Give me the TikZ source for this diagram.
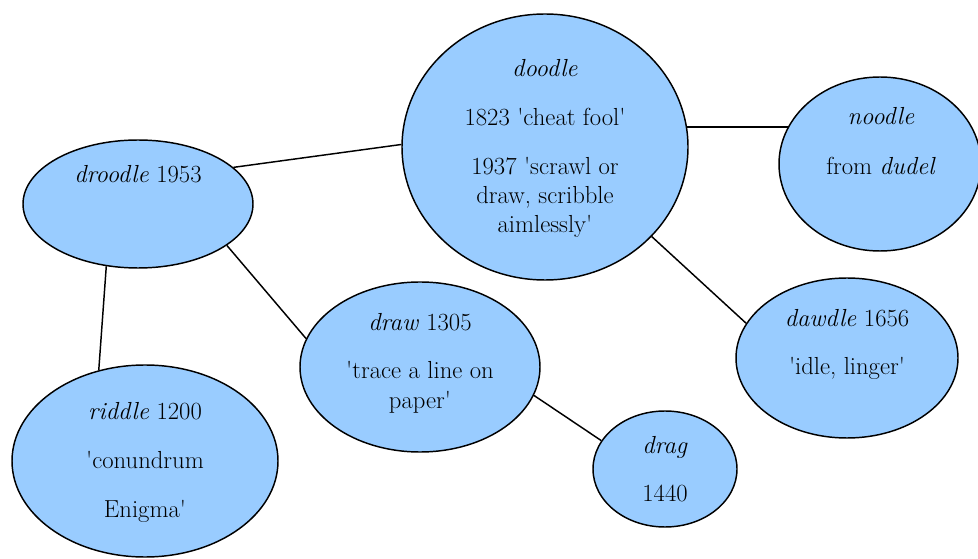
\documentclass[tikz,border=0pt]{standalone}
\usetikzlibrary{shapes.geometric}
\definecolor{skyfill}{HTML}{99CCFF}
\newcommand{\q}{\textquotesingle}

\begin{document}
\begin{tikzpicture}[
        x=0.75pt,y=-0.75pt,
        blob/.style 2 args={ellipse, draw, line width=1.1pt, fill=skyfill,
            inner sep=0pt, minimum width=#1, minimum height=#2},
        lbl/.style={anchor=base, inner sep=0pt, font=\fontsize{18.5}{22}\selectfont},
        link/.style={line width=1.1pt},
        ]
        \useasboundingbox (0,0) rectangle (978,559);

        % the word bubbles
        \node[blob={214.5pt}{199.5pt}] (doodle)  at (545,147) {};
        \node[blob={172.5pt}{96pt}]    (droodle) at (138,204) {};
        \node[blob={151.5pt}{130.5pt}] (noodle)  at (880,164) {};
        \node[blob={180pt}{127.5pt}]   (draw)    at (420,367) {};
        \node[blob={166.5pt}{120pt}]   (dawdle)  at (847,358) {};
        \node[blob={199.5pt}{144pt}]   (riddle)  at (145,461) {};
        \node[blob={108pt}{87pt}]      (drag)    at (665,469) {};

        % texts
        \node[lbl] (doodle-a) at (545,77)  {\textit{doodle}};
        \node[lbl] (doodle-b) at (545,126) {1823 \q cheat fool\q};
        \node[lbl] (doodle-c) at (545,175) {1937 \q scrawl or};
        \node[lbl] (doodle-d) at (545,204) {draw, scribble};
        \node[lbl] (doodle-e) at (545,233) {aimlessly\q};
        \node[lbl] (droodle-a) at (138,183) {\textit{droodle} 1953};
        \node[lbl] (noodle-a) at (881,125) {\textit{noodle}};
        \node[lbl] (noodle-b) at (881,175) {from \textit{dudel}};
        \node[lbl] (draw-a) at (420,331) {\textit{draw} 1305};
        \node[lbl] (draw-b) at (420,379) {\q trace a line on};
        \node[lbl] (draw-c) at (420,409) {paper\q};
        \node[lbl] (dawdle-a) at (847,327) {\textit{dawdle} 1656};
        \node[lbl] (dawdle-b) at (847,375) {\q idle, linger\q};
        \node[lbl] (riddle-a) at (145,420) {\textit{riddle} 1200};
        \node[lbl] (riddle-b) at (145,469) {\q conundrum};
        \node[lbl] (riddle-c) at (145,517) {Enigma\q};
        \node[lbl] (drag-a) at (665,453) {\textit{drag}};
        \node[lbl] (drag-b) at (665,501) {1440};

        % links
        \draw[link] (droodle.21) -- (doodle.179);
        \draw[link] (doodle.8) -- (doodle.8 -| noodle.157);
        \draw[link] (droodle.243) -- (riddle.117);
        \draw[link] (droodle.335) -- (draw.166);
        \draw[link] (doodle.320) -- (dawdle.161);
        \draw[link] (draw.346) -- (drag.156);
\end{tikzpicture}
\end{document}
